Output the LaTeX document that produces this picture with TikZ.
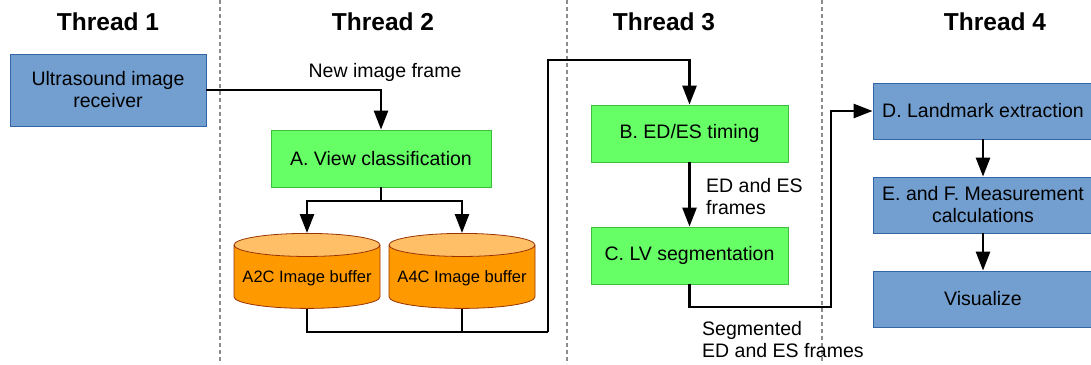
\documentclass[tikz,border=0pt]{standalone}
\usepackage{fontspec}
\setmainfont{Liberation Sans}
\usetikzlibrary{arrows.meta,shapes.geometric}
\definecolor{recvblue}{HTML}{729FCF}
\definecolor{recvedge}{HTML}{3465A4}
\definecolor{stepgreen}{HTML}{66FF66}
\definecolor{stepedge}{HTML}{3DBE3D}
\definecolor{bufbody}{HTML}{FF9900}
\definecolor{buftop}{HTML}{FFBF66}
\definecolor{bufedge}{HTML}{993300}
\definecolor{sepgray}{HTML}{8C8C8C}
\tikzset{
  every node/.style={font=\fontsize{19.5}{22}\selectfont},
  thread/.style={font=\bfseries\fontsize{24.5}{28}\selectfont},
  sepline/.style={draw=sepgray, line width=2.6pt, dash pattern=on 4pt off 3pt},
  bluebox/.style={draw=recvedge, fill=recvblue, line width=0.8pt, align=center, minimum height=56pt},
  greenbox/.style={draw=stepedge, fill=stepgreen, line width=0.8pt, align=center, minimum height=57pt, minimum width=197pt},
  buffer/.style={cylinder, shape border rotate=90, aspect=0.17, draw=bufedge, line width=0.8pt,
    cylinder uses custom fill, cylinder body fill=bufbody, cylinder end fill=buftop,
    minimum width=146pt, minimum height=75pt, anchor=north, font=\fontsize{16.5}{19}\selectfont},
  link/.style={line width=2.6pt},
  flow/.style={line width=2.6pt, -{Triangle[length=19pt,width=14pt]}},
  note/.style={align=left, inner sep=0pt, anchor=west}
}
\begin{document}
\begin{tikzpicture}[x=1pt,y=-1pt]
  \useasboundingbox (0,0) rectangle (1091,364);
  \draw[sepline] (220,0) -- (220,364);
  \draw[sepline] (567,0) -- (567,364);
  \draw[sepline] (822,0) -- (822,364);

  \node[thread] (t1) at (108,22) {Thread 1};
  \node[thread] (t2) at (383,22) {Thread 2};
  \node[thread] (t3) at (664,22) {Thread 3};
  \node[thread] (t4) at (995,22) {Thread 4};

  \node[bluebox, minimum width=196pt, minimum height=72pt] (receiver) at (108,90) {Ultrasound image\\receiver};
  \node[greenbox, minimum width=220pt] (viewcls) at (381,158.5) {A. View classification};
  \node[buffer] (a2c) at (307,233) {A2C Image buffer};
  \node[buffer] (a4c) at (462,233) {A4C Image buffer};
  \node[greenbox] (edes) at (689.5,133.5) {B. ED/ES timing};
  \node[greenbox] (lvseg) at (689.5,255.5) {C. LV segmentation};
  \node[bluebox, minimum width=220pt] (landmark) at (983,111) {D. Landmark extraction};
  \node[bluebox, minimum width=220pt] (measure) at (983,205) {E. and F. Measurement\\calculations};
  \node[bluebox, minimum width=220pt] (visual) at (983,299) {Visualize};

  \node (newframe) at (385,72) {New image frame};
  \node[note] (edesframes) at (706,197) {ED and ES\\frames};
  \node[note] (segframes) at (702,340) {Segmented\\ED and ES frames};

  \coordinate (split) at (381,201);
  \coordinate (join) at (548,332);
  \coordinate (rise) at (548,60);
  \coordinate (cross) at (831,307);

  \draw[flow] (receiver.east) -| (viewcls.north);
  \draw[link] (viewcls.south) -- (split);
  \draw[flow] (split) -| (a2c.north);
  \draw[flow] (split) -| (a4c.north);
  \draw[link] (a2c.south) |- (join);
  \draw[link] (a4c.south) -- (a4c.south |- join);
  \draw[flow] (join) -- (rise) -| (edes.north);
  \draw[flow] (edes) -- (lvseg);
  \draw[flow] (lvseg.south) |- (cross) |- (landmark.west);
  \draw[flow] (landmark) -- (measure);
  \draw[flow] (measure) -- (visual);
\end{tikzpicture}
\end{document}
